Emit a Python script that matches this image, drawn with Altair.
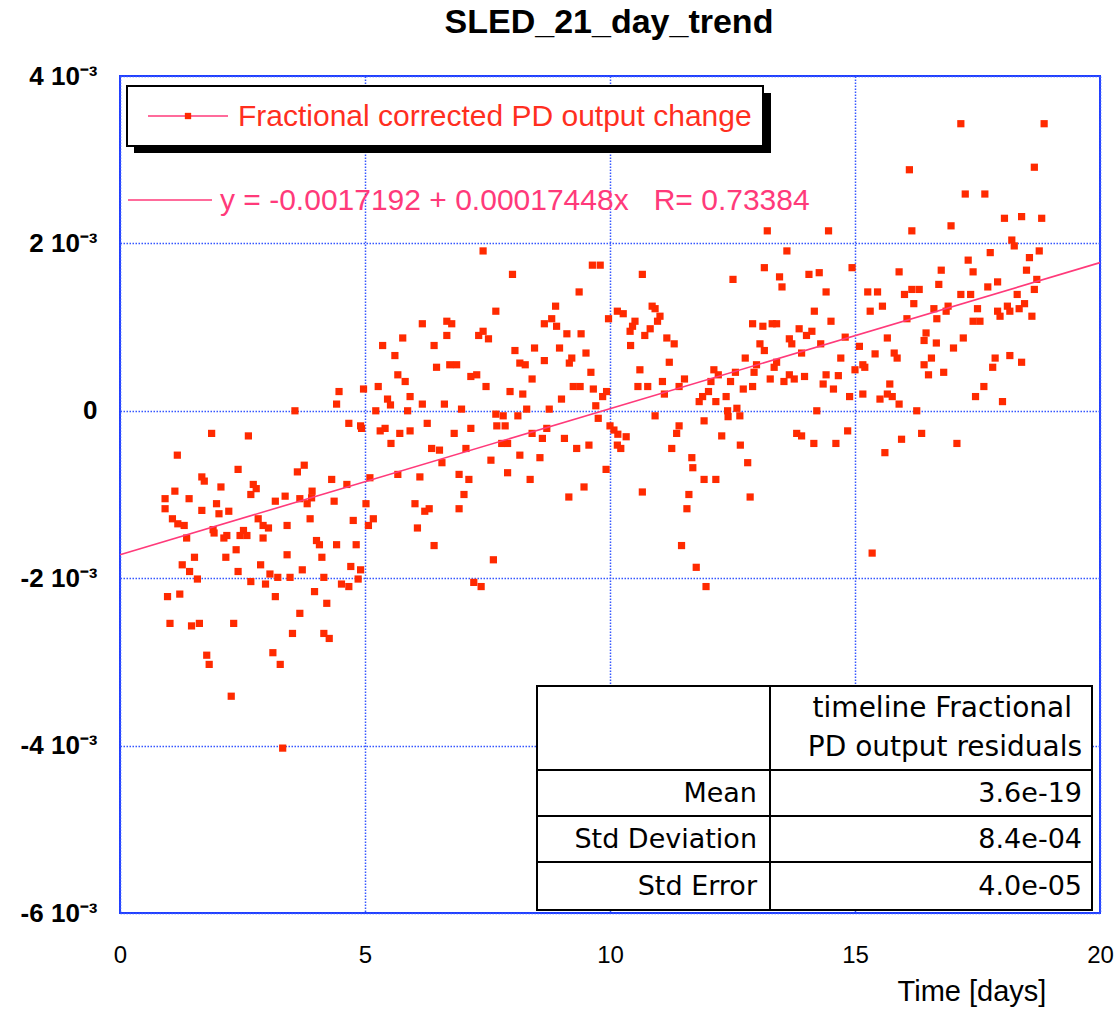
import altair as alt
import pandas as pd

# ---------------- data ----------------
days = [
    1.87, 2.62, 1.17, 2.41, 3.76, 3.62, 1.67, 1.72, 4.32, 5.10, 4.63, 1.12, 2.06, 2.72, 2.78, 2.67,
    3.92, 3.91, 3.37, 3.67, 0.92, 1.41, 3.17, 3.82, 4.37, 5.02, 0.92, 1.67, 1.97, 2.02, 2.22, 1.07,
    1.18, 1.31, 2.82, 3.88, 4.76, 5.17, 2.92, 3.03, 3.41, 5.07, 1.90, 1.92, 2.52, 2.45, 2.59, 2.18,
    2.12, 1.36, 2.92, 4.01, 4.07, 4.42, 4.82, 2.37, 1.52, 2.16, 3.41, 4.12, 1.27, 2.87, 4.71, 1.42,
    2.41, 3.72, 4.91, 1.58, 3.06, 3.22, 3.47, 4.16, 2.67, 2.97, 4.52, 4.67, 4.86, 0.97, 1.22, 3.17,
    3.97, 4.22, 3.67, 1.02, 1.46, 1.62, 2.32, 3.52, 4.16, 4.27, 1.77, 1.82, 3.12, 3.27, 2.27, 3.32,
    4.93, 5.31, 5.53, 5.36, 4.47, 4.97, 5.27, 4.42, 3.57, 5.46, 5.22, 4.67, 4.91, 5.41,
    7.41, 9.64, 9.80, 8.01, 9.37, 8.89, 7.67, 10.15, 6.17, 6.67, 6.77, 8.66, 8.81, 8.91, 9.97, 5.77,
    6.67, 7.32, 7.41, 7.52, 9.12, 9.41, 6.41, 8.06, 8.46, 8.97, 5.61, 8.66, 9.22, 9.17, 9.51, 8.16,
    8.27, 6.46, 6.73, 6.87, 5.67, 5.82, 7.16, 7.28, 8.41, 9.61, 7.47, 9.25, 9.39, 9.66, 5.52, 5.92,
    6.17, 6.62, 7.96, 8.22, 9.01, 9.85, 9.93, 6.97, 5.87, 8.30, 8.76, 9.71, 7.67, 7.82, 8.12, 9.76,
    6.27, 7.69, 7.86, 5.71, 5.92, 6.82, 7.16, 8.41, 8.71, 10.08, 10.00, 10.16,
    6.36, 6.52, 7.06, 7.79, 7.91, 8.62, 9.07, 9.32, 9.57, 10.15, 10.22, 6.57, 7.57, 8.16, 8.57, 9.92,
    5.67, 6.12, 6.92, 7.12, 7.91, 8.37, 9.47, 9.16, 7.02, 6.02, 6.22, 6.31, 6.92, 6.07, 6.41, 7.62,
    7.22, 7.37,
    13.21, 14.46, 13.61, 10.66, 13.15, 12.51, 13.46, 13.51, 14.06, 14.27, 14.41, 14.94, 10.27, 10.86,
    10.92, 11.02, 10.97, 10.51, 10.46, 10.41, 10.82, 10.71, 14.17, 14.51, 12.91, 13.12, 13.31, 13.40,
    13.86, 14.12, 14.01, 13.66, 13.71, 14.30, 14.80, 11.16, 11.31, 10.42, 13.06, 13.15, 13.91, 12.76,
    11.21, 14.71, 12.99, 13.40, 13.35, 10.61, 12.12, 12.21, 12.56, 12.94, 13.66, 13.76, 13.97, 14.41,
    14.66, 11.52, 11.07, 10.57, 10.77, 11.41, 12.06, 12.46, 13.27, 13.55, 14.35, 14.56, 12.72, 12.91,
    11.11, 12.01, 11.89, 11.82, 12.16, 12.37, 14.89, 12.40, 12.41, 12.59, 12.65, 10.92, 14.22, 11.92,
    11.41, 11.36, 10.33, 12.28, 13.81, 13.91, 14.85,
    11.26, 11.67, 11.69, 11.92, 12.16, 12.66, 12.81, 12.86, 14.16, 14.61, 10.66, 11.61, 11.57, 11.46,
    11.76, 11.96,
    17.16, 18.86, 16.11, 18.66, 17.25, 17.65, 18.05, 18.40, 18.81, 16.96, 16.16, 18.20, 18.25, 17.76,
    18.76, 18.56, 17.31, 15.90, 16.76, 17.41, 18.50, 17.91, 16.71, 18.71, 17.71, 15.26, 15.46, 16.01,
    16.16, 16.31, 17.16, 17.36, 18.31, 18.66, 16.20, 15.56, 15.31, 16.61, 16.90, 16.86, 16.67, 17.50,
    17.91, 17.96, 18.11, 18.16, 18.35, 18.46, 18.61, 16.06, 17.41, 17.55, 15.66, 16.45, 16.41, 16.66,
    17.21, 17.01, 15.09, 15.41, 15.80, 15.86, 16.56, 17.86, 18.16, 18.40, 15.16, 15.20, 16.41, 17.81,
    15.00, 16.50, 16.81, 15.71, 17.63, 15.16, 15.51, 15.66, 15.76, 15.90, 17.46, 18.01, 16.26, 16.36,
    15.95, 15.61, 17.08, 15.35,
]

# residual change in units of 1e-3
change_e3 = [
    -0.27, -0.30, -0.53, -0.70, -0.65, -0.73, -0.79, -0.84, -0.82, -0.80, -0.88, -0.96, -0.91, -0.88, -0.93, -1.00,
    -0.96, -1.04, -1.02, -1.05, -1.05, -1.05, -1.08, -1.11, -1.08, -1.11, -1.17, -1.19, -1.11, -1.23, -1.20, -1.29,
    -1.35, -1.37, -1.29, -1.29, -1.31, -1.29, -1.37, -1.40, -1.37, -1.37, -1.42, -1.46, -1.43, -1.49, -1.49, -1.49,
    -1.52, -1.52, -1.52, -1.55, -1.60, -1.60, -1.60, -1.66, -1.75, -1.75, -1.72, -1.75, -1.84, -1.84, -1.86, -1.92,
    -1.92, -1.90, -1.90, -2.01, -1.95, -1.99, -1.99, -1.99, -2.04, -2.07, -2.07, -2.10, -2.01, -2.22, -2.19, -2.22,
    -2.16, -2.30, -2.42, -2.54, -2.57, -2.54, -2.54, -2.66, -2.66, -2.72, -2.92, -3.03, -2.89, -3.03, -3.41, -4.03,
    -0.21, -0.24, -0.39, 0.78, 0.23, 0.26, 0.29, 0.08, 0.00, 0.14, 0.00, -0.15, -0.18, -0.21,
    1.91, 1.74, 1.74, 1.63, 1.42, 1.25, 1.19, 1.19, 1.04, 1.07, 1.04, 1.04, 1.10, 1.01, 1.10, 0.87,
    0.90, 0.90, 0.95, 0.86, 0.92, 0.92, 0.78, 0.72, 0.75, 0.75, 0.66, 0.60, 0.63, 0.57, 0.69, 0.57,
    0.55, 0.52, 0.55, 0.55, 0.43, 0.35, 0.41, 0.43, 0.38, 0.46, 0.29, 0.29, 0.29, 0.26, 0.07, 0.17,
    0.08, 0.08, 0.23, 0.20, 0.14, 0.17, 0.23, 0.02, 0.00, 0.02, 0.02, 0.06, -0.04, -0.06, -0.06, -0.09,
    -0.15, -0.18, -0.18, -0.27, -0.24, -0.27, -0.21, -0.27, -0.21, -0.23, -0.18, -0.28,
    -0.45, -0.47, -0.45, -0.39, -0.39, -0.33, -0.33, -0.45, -0.41, -0.41, -0.45, -0.62, -0.59, -0.53, -0.56, -0.70,
    -0.76, -0.79, -0.76, -0.82, -0.74, -0.82, -0.91, -1.03, -1.00, -1.11, -1.20, -1.17, -1.17, -1.40, -1.61, -1.78,
    -2.05, -2.10,
    2.15, 2.15, 1.91, 1.63, 1.71, 1.57, 1.60, 1.48, 1.63, 1.65, 1.42, 1.71, 1.16, 1.25,
    1.22, 1.13, 1.07, 1.07, 1.01, 0.95, 0.98, 0.90, 1.19, 1.07, 1.04, 1.01, 1.04, 1.04,
    0.98, 0.95, 0.90, 0.86, 0.80, 0.80, 0.88, 0.87, 0.80, 0.78, 0.80, 0.72, 0.69, 0.63,
    0.58, 0.63, 0.55, 0.58, 0.52, 0.49, 0.49, 0.43, 0.46, 0.46, 0.43, 0.38, 0.41, 0.43,
    0.42, 0.38, 0.35, 0.29, 0.29, 0.29, 0.35, 0.35, 0.38, 0.35, 0.32, 0.26, 0.26, 0.29,
    0.20, 0.23, 0.17, 0.11, 0.11, 0.17, 0.17, 0.00, -0.07, 0.03, -0.06, -0.06, 0.00, -0.12,
    -0.18, -0.27, -0.31, -0.30, -0.27, -0.30, -0.24,
    -0.45, -0.56, -0.68, -0.82, -0.82, -0.41, -0.62, -1.03, -0.39, -0.39, -0.97, -1.00, -1.17, -1.61,
    -1.87, -2.10,
    3.43, 3.43, 2.88, 2.91, 2.59, 2.59, 2.30, 2.32, 2.30, 2.21, 2.15, 2.04, 1.97, 1.89,
    1.91, 1.83, 1.80, 1.66, 1.68, 1.66, 1.68, 1.54, 1.51, 1.57, 1.48, 1.42, 1.42, 1.39,
    1.45, 1.45, 1.39, 1.39, 1.39, 1.45, 1.28, 1.25, 1.19, 1.22, 1.25, 1.19, 1.10, 1.22,
    1.19, 1.13, 1.25, 1.19, 1.22, 1.28, 1.13, 1.10, 1.07, 1.07, 0.87, 0.93, 0.84, 0.81,
    0.87, 0.75, 0.77, 0.68, 0.69, 0.63, 0.63, 0.63, 0.66, 0.58, 0.55, 0.52, 0.55, 0.52,
    0.49, 0.43, 0.46, 0.32, 0.29, 0.20, 0.14, 0.20, 0.17, 0.08, 0.17, 0.11, 0.00, -0.27,
    -0.34, -0.50, -0.39, -1.70,
]

fit_intercept = -0.0017192
fit_slope = 0.00017448
fit_r = 0.73384
fit_days = [0, 20]

x_ticks = [0, 5, 10, 15, 20]
y_ticks = [-0.006, -0.004, -0.002, 0, 0.002, 0.004]

title_text = "SLED_21_day_trend"
series_name = "Fractional corrected PD output change"
x_title = "Time [days]"
table_header = ["timeline Fractional", "PD output residuals"]
stat_names = ["Mean", "Std Deviation", "Std Error"]
stat_values = ["3.6e-19", "8.4e-04", "4.0e-05"]

# ---------------- styling ----------------
W, H = 980, 837
SANS = "Liberation Sans, Arial, Helvetica, sans-serif"
TABLE_FONT = "DejaVu Sans, Verdana, sans-serif"
POINT_COLOR = "#ff2a00"
TREND_COLOR = "#ff3a7a"
LEGEND_TEXT = "#ff2f1f"
FRAME = "#1f3dff"
GRID = "#3556ff"
NB = "\u00a0"

points = pd.DataFrame({"t": days, "v": [c * 1e-3 for c in change_e3]})
trend = pd.DataFrame({"t": fit_days, "v": [fit_intercept + fit_slope * d for d in fit_days]})
one = pd.DataFrame({"k": [0]})

x_scale = alt.Scale(domain=[0, 20], nice=False, zero=False)
y_scale = alt.Scale(domain=[-0.006, 0.004], nice=False, zero=False)

y_label_expr = ("datum.value == 0 ? '0' : (datum.value < 0 ? '-' : '') + "
                "abs(round(datum.value * 1000)) + ' 10\u207b\u00b3'")

pts = alt.Chart(points).mark_square(size=52, color=POINT_COLOR, opacity=1, filled=True).encode(
    x=alt.X("t:Q", scale=x_scale, axis=alt.Axis(
        values=x_ticks, title=None, grid=True, domain=False, ticks=False,
        gridColor=GRID, gridDash=[1.5, 1.5], gridWidth=1.5, labelFlush=False,
        labelFont=SANS, labelFontSize=24, labelColor="black", labelPadding=30)),
    y=alt.Y("v:Q", scale=y_scale, axis=alt.Axis(
        values=y_ticks, title=None, grid=True, domain=False, ticks=False,
        gridColor=GRID, gridDash=[1.5, 1.5], gridWidth=1.5, labelFlush=False,
        labelFont=SANS, labelFontSize=26, labelFontWeight="bold", labelColor="black",
        labelPadding=23, labelExpr=y_label_expr)),
)

line = alt.Chart(trend).mark_line(color=TREND_COLOR, strokeWidth=1.6).encode(
    x=alt.X("t:Q", scale=x_scale), y=alt.Y("v:Q", scale=y_scale))


def txt(s, x, y, size, color="black", align="left", weight="normal", font=SANS):
    return alt.Chart(one).mark_text(
        text=s, align=align, baseline="middle", fontSize=size, font=font,
        fontWeight=weight, color=color).encode(x=alt.value(x), y=alt.value(y))


def box(x1, x2, y1, y2, fill, stroke=None, sw=0):
    kw = dict(fill=fill, strokeWidth=sw)
    if stroke is not None:
        kw["stroke"] = stroke
    return alt.Chart(one).mark_rect(**kw).encode(
        x=alt.value(x1), x2=alt.value(x2), y=alt.value(y1), y2=alt.value(y2))


def hline(x1, x2, y, color, sw):
    return alt.Chart(one).mark_rule(color=color, strokeWidth=sw).encode(
        x=alt.value(x1), x2=alt.value(x2), y=alt.value(y), y2=alt.value(y))


def vline(x, y1, y2, color, sw):
    return alt.Chart(one).mark_rule(color=color, strokeWidth=sw).encode(
        x=alt.value(x), x2=alt.value(x), y=alt.value(y1), y2=alt.value(y2))


layers = [pts, line]

# legend box with drop shadow
layers += [
    box(14, 651, 17, 77, "black"),
    box(7, 643, 10, 70, "white", "black", 2),
    hline(28, 108, 40, TREND_COLOR, 1.6),
    alt.Chart(one).mark_square(size=40, color=POINT_COLOR, opacity=1).encode(
        x=alt.value(68), y=alt.value(40)),
    txt(series_name, 118, 41, 30, LEGEND_TEXT),
]

# fit equation
eq = f"y = {fit_intercept} + {fit_slope:.8f}x{NB*3}R= {fit_r}"
layers += [
    hline(8, 92, 124, TREND_COLOR, 1.6),
    txt(eq, 100, 125, 30, TREND_COLOR),
]

# statistics table
tx1, tx2, tcol = 417, 972, 650
ty = [610, 694, 740, 786, 834]
layers += [box(tx1, tx2, ty[0], ty[-1], "white", "black", 2),
           vline(tcol, ty[0], ty[-1], "black", 2)]
for yy in ty[1:-1]:
    layers.append(hline(tx1, tx2, yy, "black", 2))
layers += [
    txt(table_header[0], 952, 633, 28, align="right", font=TABLE_FONT),
    txt(table_header[1], 962, 672, 28, align="right", font=TABLE_FONT),
]
for i, (n, v) in enumerate(zip(stat_names, stat_values)):
    yc = (ty[i + 1] + ty[i + 2]) / 2 + 1
    layers += [txt(n, 637, yc, 27, align="right", font=TABLE_FONT),
               txt(v, 962, yc, 27, align="right", font=TABLE_FONT)]

# title and x-axis title
layers += [
    txt(title_text, 489, -53, 34, align="center", weight="bold"),
    txt(x_title, 852, 916, 29, align="center"),
]

chart = alt.layer(*layers).properties(
    width=W, height=H,
    padding={"left": 120, "top": 76, "right": 19, "bottom": 98},
    autosize=alt.AutoSizeParams(type="none"),
).configure_view(stroke=FRAME, strokeWidth=2)

chart.save("out.html", embed_options={"renderer": "svg", "actions": False})
